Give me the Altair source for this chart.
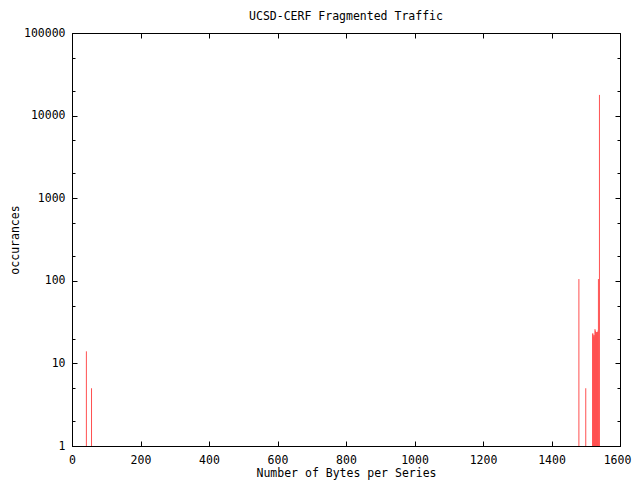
import altair as alt
import pandas as pd

# data
bytes_per_series = [42, 57, 1480, 1500,
                    1520, 1521, 1522, 1523, 1524, 1525, 1526, 1527, 1528,
                    1529, 1530, 1531, 1532, 1533, 1534, 1535, 1536,
                    1537, 1540]
occurances = [14, 5, 105, 5,
              23, 23, 22, 21, 21, 20, 22, 26, 25,
              24, 24, 23, 24, 22, 24, 24, 25,
              105, 17800]

x_ticks = [0, 200, 400, 600, 800, 1000, 1200, 1400, 1600]
y_major = [1, 10, 100, 1000, 10000, 100000]
y_all = [1, 2, 5, 10, 20, 50, 100, 200, 500, 1000, 2000, 5000,
         10000, 20000, 50000, 100000]

df = pd.DataFrame({"bytes": bytes_per_series, "occ": occurances, "base": [1] * len(occurances)})

W, H = 548, 413
FONT = "DejaVu Sans Mono"
FS = 11.5

xscale = alt.Scale(domain=[0, 1600], nice=False, zero=False)
yscale = alt.Scale(type="log", domain=[1, 100000], nice=False)

major_test = "abs(log(datum.value)/LN10 - round(log(datum.value)/LN10)) < 0.001"

common = dict(labelFont=FONT, labelFontSize=FS, titleFont=FONT, titleFontSize=FS,
              titleFontWeight="normal", labelColor="black", titleColor="black",
              tickColor="black", tickWidth=1, domain=True, domainColor="black",
              domainWidth=1, grid=False)

# layer with the data and the labelled axes
bars = alt.Chart(df).mark_rule(color="#ff5050", strokeWidth=1).encode(
    x=alt.X("bytes:Q", scale=xscale,
            axis=alt.Axis(orient="bottom", values=x_ticks, format="d", tickSize=0,
                          labelPadding=8, title="Number of Bytes per Series",
                          titlePadding=2, labelFlush=False,
                          labelOffset={"condition": {"test": "datum.value >= 1600", "value": -3},
                                       "value": 0},
                          **common)),
    y=alt.Y("occ:Q", scale=yscale,
            axis=alt.Axis(orient="left", values=y_major, format="d", tickSize=0,
                          labelPadding=7, title="occurances", titlePadding=3,
                          **common)),
    y2="base:Q",
)

tick_size = {"condition": {"test": major_test, "value": 5}, "value": 3}

# inward ticks: bottom and left
ticks1 = alt.Chart(df).mark_rule(opacity=0).encode(
    x=alt.X("bytes:Q", scale=xscale,
            axis=alt.Axis(orient="top", offset=-H, values=x_ticks, labels=False,
                          tickSize=5, title=None, **common)),
    y=alt.Y("occ:Q", scale=yscale,
            axis=alt.Axis(orient="right", offset=-W, values=y_all, labels=False,
                          tickSize=tick_size, title=None, **common)),
)

# inward ticks: top and right
ticks2 = alt.Chart(df).mark_rule(opacity=0).encode(
    x=alt.X("bytes:Q", scale=xscale,
            axis=alt.Axis(orient="bottom", offset=-H, values=x_ticks, labels=False,
                          tickSize=5, title=None, **common)),
    y=alt.Y("occ:Q", scale=yscale,
            axis=alt.Axis(orient="left", offset=-W, values=y_all, labels=False,
                          tickSize=tick_size, title=None, **common)),
)

chart = alt.layer(bars, ticks1, ticks2).resolve_scale(
    x="independent", y="independent"
).resolve_axis(
    x="independent", y="independent"
).properties(
    width=W, height=H,
    title=alt.TitleParams("UCSD-CERF Fragmented Traffic", font=FONT, fontSize=FS,
                          fontWeight="normal", anchor="middle", offset=5,
                          color="black"),
    autosize=alt.AutoSizeParams(type="none"),
    padding={"left": 64, "top": 25, "right": 12, "bottom": 34},
).configure_view(
    stroke=None
).configure(background="white")

chart.save("out.html", embed_options={"renderer": "svg", "actions": False})
